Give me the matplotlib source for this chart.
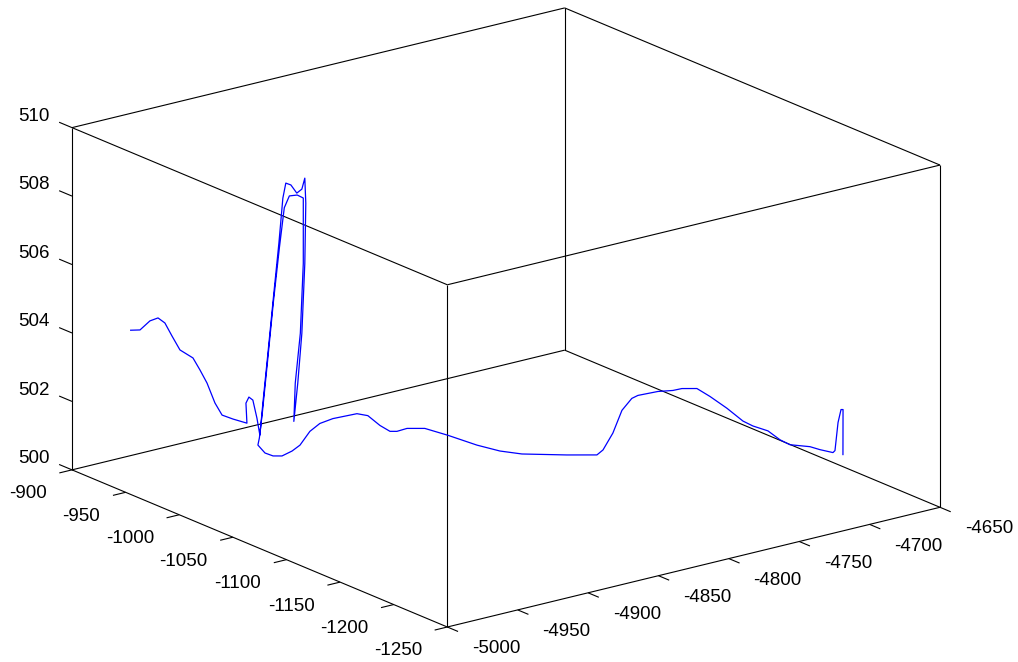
import numpy as np
import matplotlib
matplotlib.use("Agg")
import matplotlib.pyplot as plt
from mpl_toolkits.mplot3d import proj3d

# ---- flight track -----------------------------------------------------------
TRACK_X = [
    -4967.0, -4962.5, -4955.7, -4950.7, -4947.5, -4943.6, -4940.3, -4935.7,
    -4934.4, -4930.6, -4926.4, -4921.5, -4913.5, -4904.3,
    -4905.3, -4904.8, -4902.6, -4898.1, -4896.7,
    -4894.5, -4890.9, -4886.7, -4883.1, -4880.3, -4878.2, -4874.6, -4870.4,
    -4866.8, -4864.7, -4864.0, -4864.7, -4866.8, -4869.7, -4872.5,
    -4871.1, -4867.5, -4865.4, -4865.4, -4869.7, -4875.3, -4878.9, -4882.4,
    -4886.7, -4890.9, -4894.5, -4896.6,
    -4904.5, -4908.0, -4905.7, -4901.7, -4891.9, -4882.0, -4864.6, -4853.5,
    -4842.4, -4826.3, -4823.5, -4828.6, -4830.4, -4827.3, -4819.6, -4811.6,
    -4808.6, -4806.1, -4802.1, -4795.4, -4776.2, -4762.7, -4758.3, -4746.8,
    -4729.3, -4719.4, -4715.3, -4703.9, -4696.1, -4690.0, -4683.2, -4684.0,
    -4687.2, -4690.1, -4690.9, -4689.4, -4691.7, -4690.7, -4683.8, -4682.5,
    -4679.8,
    -4678.6, -4676.5, -4675.9, -4675.0, -4675.6,
]
TRACK_Y = [
    -911.4, -914.2, -914.5, -915.5, -917.7, -919.2, -922.3, -928.4,
    -933.2, -934.8, -936.7, -936.9, -936.6, -937.5,
    -937.9, -940.0, -940.8, -938.7, -939.6,
    -939.5, -939.5, -939.5, -939.5, -939.5, -939.5, -939.5, -939.5,
    -939.5, -939.5, -939.5, -939.5, -939.5, -939.5, -939.5,
    -939.0, -939.0, -939.0, -939.0, -939.0, -939.0, -939.0, -939.0,
    -939.0, -939.0, -939.0, -939.0,
    -948.0, -959.2, -963.7, -966.8, -963.3, -957.7, -944.1, -938.8,
    -936.4, -937.7, -944.2, -962.2, -973.9, -976.3, -975.6, -981.7,
    -999.3, -1023.1, -1039.3, -1051.0, -1067.8, -1078.0, -1077.9, -1072.0,
    -1057.5, -1053.7, -1054.0, -1057.7, -1061.4, -1061.8, -1066.9, -1080.1,
    -1100.1, -1118.9, -1129.2, -1141.3, -1155.5, -1163.5, -1173.1, -1180.7,
    -1189.3,
    -1189.6, -1189.7, -1191.7, -1192.4, -1193.1,
]
TRACK_Z = [
    503.90, 503.90, 504.10, 504.15, 504.00, 503.60, 503.20, 503.00,
    502.70, 502.30, 501.70, 501.30, 501.10, 500.90,
    501.50, 501.70, 501.60, 501.00, 500.50,
    501.41, 502.84, 504.55, 505.98, 507.26, 507.68, 507.59, 507.31,
    507.39, 507.69, 506.95, 505.20, 503.18, 501.75, 500.66,
    501.76, 503.18, 505.20, 507.11, 507.24, 507.27, 506.96, 505.82,
    504.26, 502.55, 501.12, 500.41,
    500.40, 500.35, 500.30, 500.30, 500.30, 500.30, 500.35, 500.40,
    500.40, 500.40, 500.40, 500.40, 500.40, 500.40, 500.40, 500.40,
    500.40, 500.40, 500.40, 500.40, 500.40, 500.40, 500.50, 500.80,
    501.10, 501.30, 501.35, 501.40, 501.40, 501.40, 501.40, 501.35,
    501.30, 501.20, 501.20, 501.20, 501.15, 501.10, 501.10, 501.10,
    501.10,
    501.15, 501.95, 502.35, 502.35, 501.05,
]

X_LIM = (-5000, -4650)
Y_LIM = (-1250, -900)
Z_LIM = (500, 510)
X_TICKS = [-5000, -4950, -4900, -4850, -4800, -4750, -4700, -4650]
Y_TICKS = [-900, -950, -1000, -1050, -1100, -1150, -1200, -1250]
Z_TICKS = [500, 502, 504, 506, 508, 510]

W, H = 1018, 662
# where the box corners sit in the reference (px, y measured from the bottom)
BOX_LEFT, BOX_RIGHT, BOX_BOTTOM = 72, 940, 35

plt.rcParams["font.family"] = ["Liberation Sans", "DejaVu Sans"]
EDGE = dict(color="black", lw=0.8, solid_capstyle="butt")
FS = 13.5

fig = plt.figure(figsize=(W / 100, H / 100), dpi=100)
ax = fig.add_axes([0, 0, 1, 1], projection="3d", computed_zorder=False)
ax.set_proj_type("ortho")
ax.view_init(elev=18.6, azim=-127.3)
ax.set_box_aspect((1, 1, 0.583))
ax.set_xlim(*X_LIM)
ax.set_ylim(*Y_LIM)
ax.set_zlim(*Z_LIM)
ax.set_axis_off()

x0, x1 = X_LIM
y0, y1 = Y_LIM
z0, z1 = Z_LIM

# full wire box, matlab style
for y in (y0, y1):
    for z in (z0, z1):
        ax.plot([x0, x1], [y, y], [z, z], **EDGE)
for x in (x0, x1):
    for z in (z0, z1):
        ax.plot([x, x], [y0, y1], [z, z], **EDGE)
for x in (x0, x1):
    for y in (y0, y1):
        ax.plot([x, x], [y, y], [z0, z1], **EDGE)

# ticks + labels
for v in X_TICKS:
    ax.plot([v, v], [y0, y0 - 10], [z0, z0], **EDGE)
    ax.text(v, y0 - 23, z0 - 0.33, str(v), ha="left", va="center", fontsize=FS)
for v in Y_TICKS:
    ax.plot([x0, x0 - 9], [v, v], [z0, z0], **EDGE)
    ax.text(x0 - 18, v, z0 - 0.52, str(v), ha="right", va="center", fontsize=FS)
for v in Z_TICKS:
    ax.plot([x0, x0], [y1, y1 + 12], [v, v], **EDGE)
    ax.text(x0, y1 + 20.5, v + 0.06, str(v), ha="right", va="center", fontsize=FS)

ax.plot(TRACK_X, TRACK_Y, TRACK_Z, color="#0000ff", lw=0.9)

# ---- fit the projected box onto the reference pixels -------------------------
fig.canvas.draw()
corners = np.array([[x, y, z] for x in X_LIM for y in Y_LIM for z in Z_LIM], float)
px, py, _ = proj3d.proj_transform(corners[:, 0], corners[:, 1], corners[:, 2],
                                  ax.get_proj())
pts = ax.transData.transform(np.column_stack([px, py]))
bx0, by0 = pts.min(axis=0)
bx1, by1 = pts.max(axis=0)
s = (BOX_RIGHT - BOX_LEFT) / (bx1 - bx0)
ncx = BOX_LEFT - s * (bx0 - W / 2)
ncy = BOX_BOTTOM - s * (by0 - H / 2)
w, h = s * W, s * H
ax.set_position([(ncx - w / 2) / W, (ncy - h / 2) / H, w / W, h / H])

fig.savefig("out.png", dpi=100)
